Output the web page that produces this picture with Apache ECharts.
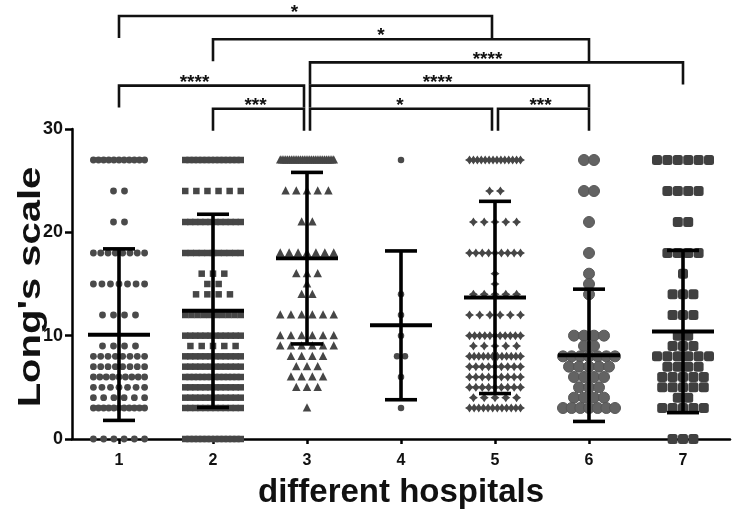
<!DOCTYPE html>
<html><head><meta charset="utf-8">
<script src="https://cdn.jsdelivr.net/npm/echarts@6/dist/echarts.min.js"></script>
<style>html,body{margin:0;padding:0;background:#fff}#c{width:742px;height:514px}</style>
</head><body><div id="c"></div>
<script>
// ---------------- data ----------------
const categories = ['1','2','3','4','5','6','7'];
const yTicks = [0, 10, 20, 30];
// each row: [Long's scale score, number of patients at that score]
const hospital1 = [[27,11],[24,2],[21,2],[18,8],[15,7],[12,4],[9,4],[8,8],[7,8],[6,9],[5,7],[4,6],[3,11],[0,6]];
const hospital2 = [[27,14],[24,6],[21,12],[18,11],[16,3],[15,2],[14,4],[12,10],[10,12],[9,5],[8,12],[7,12],[6,14],[5,12],[4,12],[3,12],[0,14]];
const hospital3 = [[27,30],[24,5],[21,2],[18,7],[16,3],[15,1],[14,2],[12,6],[10,6],[9,6],[8,4],[7,3],[6,4],[5,3],[3,1]];
const hospital4 = [[27,1],[14,1],[12,1],[10,1],[8,2],[6,1],[3,1]];
const hospital5 = [[27,14],[24,2],[21,5],[18,9],[16,1],[15,1],[14,5],[12,6],[10,11],[9,5],[8,12],[7,9],[6,9],[5,9],[4,5],[3,12]];
const hospital6 = [[27,2],[24,2],[21,1],[18,1],[16,1],[15,1],[14,1],[10,4],[9,2],[8,7],[7,5],[6,4],[5,3],[4,4],[3,7]];
const hospital7 = [[27,6],[24,4],[21,2],[18,4],[16,1],[14,3],[12,3],[10,2],[9,3],[8,6],[7,4],[6,5],[5,5],[4,2],[3,5],[0,3]];
const means = [10.1, 12.4, 17.5, 11.0, 13.7, 8.1, 10.4];
const sds   = [8.3, 9.35, 8.3, 7.2, 9.3, 6.4, 7.85];
// significance comparisons: [hospital a, hospital b]
const compPairs = [[1,5],[2,6],[3,7],[1,3],[3,6],[2,3],[3,5],[5,6]];
const compLabels = ['*','*','****','****','****','***','*','***'];
const compTier = [0,1,2,3,3,4,4,4];

// ---------------- styles ----------------
const hospitals = [hospital1,hospital2,hospital3,hospital4,hospital5,hospital6,hospital7];
const markerStyle = [
  {shape:'circle',  size:6.8, pitch:11,   span:58, color:'#4a4a4a'},
  {shape:'square',  size:6.5, pitch:11.3, span:62, color:'#464646'},
  {shape:'triangle',size:8.5, pitch:10.7, span:62, color:'#464646'},
  {shape:'circle',  size:6.5, pitch:8,    span:20, color:'#4a4a4a'},
  {shape:'star',    size:9,   pitch:10.8, span:60, color:'#464646'},
  {shape:'circle',  size:11,  pitch:10,   span:63, color:'#636363', stroke:'#585858'},
  {shape:'rsquare', size:10,  pitch:10.4, span:62, color:'#404040'}
];
const labelNudge = [-11,-20,-9,-17,-12,-3,-1,-3];
const tierTop = 113, tierGap = 23.2, legLen = 22;
const FONT = '"Liberation Sans", Arial, Helvetica, sans-serif';

function marker(st, x, y){
  const s = st.size, h = s/2;
  const style = {fill: st.color};
  if (st.stroke) { style.stroke = st.stroke; style.lineWidth = 1; }
  if (st.shape === 'circle') return {type:'circle', shape:{cx:x, cy:y, r:h}, style};
  if (st.shape === 'square') return {type:'rect', shape:{x:x-h, y:y-h, width:s, height:s}, style};
  if (st.shape === 'rsquare') return {type:'rect', shape:{x:x-h, y:y-h, width:s, height:s, r:2.5}, style};
  if (st.shape === 'triangle') return {type:'polygon', shape:{points:[[x,y-s*0.55],[x+h,y+s*0.42],[x-h,y+s*0.42]]}, style};
  const pts = [];
  for (let k=0;k<8;k++){
    const a = k*Math.PI/4 - Math.PI/2;
    const r = (k%2===0) ? h : h*0.58;
    pts.push([x + r*Math.cos(a), y + r*Math.sin(a)]);
  }
  return {type:'polygon', shape:{points:pts}, style};
}

const pointData = [];
hospitals.forEach((rows, gi) => rows.forEach(r => pointData.push([gi, r[0], r[1]])));
const barData = means.map((m, i) => [i, m, sds[i]]);
const bracketData = compPairs.map((p, i) => [p[0]-1, p[1]-1, compTier[i]]);

function renderPoints(params, api){
  const gi = api.value(0), v = api.value(1), n = api.value(2);
  const st = markerStyle[gi];
  const c = api.coord([gi, v]);
  const sp = n > 1 ? Math.min(st.pitch, (st.span - st.size)/(n-1)) : 0;
  const children = [];
  for (let i=0;i<n;i++) children.push(marker(st, c[0] + (i-(n-1)/2)*sp, c[1]));
  return {type:'group', children};
}

function renderBars(params, api){
  const gi = api.value(0), m = api.value(1), sd = api.value(2);
  const t = api.coord([gi, m+sd]), b = api.coord([gi, m-sd]), c = api.coord([gi, m]);
  const x = c[0];
  const ls = {stroke:'#000', lineWidth:3.6};
  return {type:'group', children:[
    {type:'line', shape:{x1:x, y1:t[1], x2:x, y2:b[1]}, style:ls},
    {type:'line', shape:{x1:x-16, y1:t[1], x2:x+16, y2:t[1]}, style:ls},
    {type:'line', shape:{x1:x-16, y1:b[1], x2:x+16, y2:b[1]}, style:ls},
    {type:'line', shape:{x1:x-31, y1:c[1], x2:x+31, y2:c[1]}, style:{stroke:'#000', lineWidth:4}}
  ]};
}

function renderBrackets(params, api){
  const i = params.dataIndex;
  const a = api.value(0), b = api.value(1), tier = api.value(2);
  const plotTop = api.coord([0, yTicks[yTicks.length-1]])[1];
  const y = plotTop - tierTop + tier*tierGap;
  let xl = api.coord([a, 0])[0], xr = api.coord([b, 0])[0];
  if (compPairs.some(p => p[1]-1 === a)) xl += 3;
  if (compPairs.some(p => p[0]-1 === b)) xr -= 3;
  return {type:'group', children:[
    {type:'polyline', shape:{points:[[xl,y+legLen],[xl,y],[xr,y],[xr,y+legLen]]},
     style:{stroke:'#111', lineWidth:2.6, fill:null, lineJoin:'miter'}},
    {type:'text', x:(xl+xr)/2 + labelNudge[i], y:y-3,
     style:{text:compLabels[i], fill:'#111', font:'bold 19px '+FONT, align:'center', verticalAlign:'middle',
            textAlign:'center', textVerticalAlign:'middle'}}
  ]};
}

const chart = echarts.init(document.getElementById('c'), null, {renderer:'canvas'});
chart.setOption({
  animation:false,
  backgroundColor:'#fff',
  grid:{left:72, right:12, top:129, bottom:71, containLabel:false},
  xAxis:{
    type:'category', data:categories, boundaryGap:true,
    axisLine:{show:true, lineStyle:{color:'#000', width:2.5}},
    axisTick:{show:true, alignWithLabel:true, length:5, lineStyle:{color:'#000', width:2.5}},
    axisLabel:{color:'#111', fontWeight:'bold', fontSize:16, fontFamily:FONT, margin:14},
    name:'different hospitals', nameLocation:'middle', nameGap:37,
    nameTextStyle:{color:'#111', fontWeight:'bold', fontSize:33, fontFamily:FONT},
    splitLine:{show:false}
  },
  yAxis:{
    type:'value', min:yTicks[0], max:yTicks[yTicks.length-1], interval:yTicks[1]-yTicks[0],
    axisLine:{show:true, lineStyle:{color:'#000', width:2.5}},
    axisTick:{show:true, length:7, lineStyle:{color:'#000', width:2.5}},
    axisLabel:{color:'#111', fontWeight:'bold', fontSize:18, fontFamily:FONT, margin:9},
    splitLine:{show:false}
  },
  graphic:[{
    type:'text', x:31, y:287, rotation:Math.PI/2, scaleX:1.29,
    style:{text:"Long's scale", fill:'#111', font:'bold 31px '+FONT,
           align:'center', verticalAlign:'middle', textAlign:'center', textVerticalAlign:'middle'}
  }],
  series:[
    {type:'custom', data:pointData, renderItem:renderPoints, encode:{x:0, y:1}, z:2, clip:false},
    {type:'custom', data:barData, renderItem:renderBars, encode:{x:0, y:1}, z:3, clip:false},
    {type:'custom', data:bracketData, renderItem:renderBrackets, encode:{x:[0,1], y:2}, z:4, clip:false}
  ]
});
</script></body></html>
